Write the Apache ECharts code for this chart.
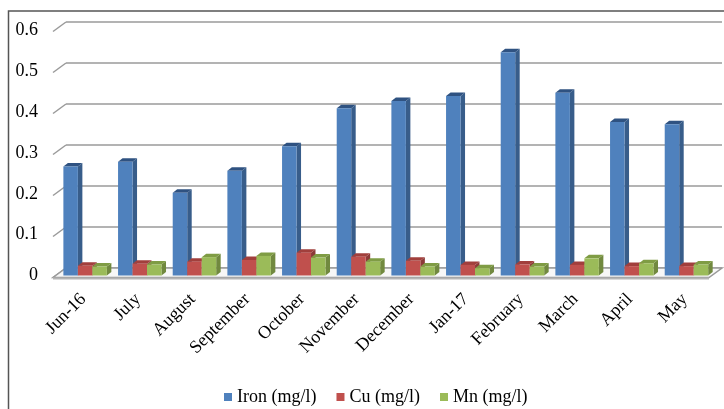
<!DOCTYPE html>
<html>
<head>
<meta charset="utf-8">
<script src="https://cdn.jsdelivr.net/npm/echarts@6/dist/echarts.min.js"></script>
<style>
  html, body { margin: 0; padding: 0; background: #fff; }
  #chart { width: 724px; height: 409px; }
</style>
</head>
<body>
<div id="chart"></div>
<script>
var months = ['Jun-16', 'July', 'August', 'September', 'October', 'November',
    'December', 'Jan-17', 'February', 'March', 'April', 'May'];
var iron = [0.267, 0.279, 0.203, 0.257, 0.317, 0.41, 0.428, 0.44, 0.547, 0.448, 0.376, 0.371];
var cu = [0.024, 0.029, 0.034, 0.038, 0.056, 0.046, 0.036, 0.026, 0.027, 0.026, 0.023, 0.023];
var mn = [0.022, 0.027, 0.045, 0.048, 0.044, 0.034, 0.022, 0.018, 0.022, 0.042, 0.030, 0.027];
var yTicks = [0, 0.1, 0.2, 0.3, 0.4, 0.5, 0.6];

var names = ['Iron (mg/l)', 'Cu (mg/l)', 'Mn (mg/l)'];
var faceColors = ['#4f81bd', '#c0504d', '#9bbb59'];
var sideColors = ['#385d8a', '#8c3a38', '#71893f'];
var topColors = ['#2f5281', '#a13f3c', '#7f9c44'];

// depth of the floor (front edge -> back wall) and of each bar
var wallDx = 13, wallDy = -9.5;
var barDx = 4.5, barDy = -3.5;
var font = 'Liberation Serif';

var chart = echarts.init(document.getElementById('chart'));

function barSeries(s, values) {
    return {
        name: names[s],
        type: 'custom',
        xAxisIndex: 0,
        yAxisIndex: 0,
        z: 5,
        itemStyle: { color: faceColors[s] },
        data: values.map(function (v, i) { return [i, v]; }),
        renderItem: function (params, api) {
            var top = api.coord([api.value(0), api.value(1)]);
            var base = api.coord([api.value(0), 0]);
            var band = api.size([1, 0])[0];
            var w = band * 0.265;
            var x0 = top[0] - band / 2 + band * 0.19 - 3 + s * w;
            var x1 = x0 + w;
            var yt = top[1], yb = base[1];
            return {
                type: 'group',
                children: [{
                    type: 'polygon',
                    shape: { points: [[x1, yt], [x1 + barDx, yt + barDy], [x1 + barDx, yb + barDy], [x1, yb]] },
                    style: { fill: sideColors[s] }
                }, {
                    type: 'polygon',
                    shape: { points: [[x0, yt], [x0 + barDx, yt + barDy], [x1 + barDx, yt + barDy], [x1, yt]] },
                    style: { fill: topColors[s] }
                }, {
                    type: 'rect',
                    shape: { x: x0, y: yt, width: w, height: yb - yt },
                    style: { fill: faceColors[s] }
                }]
            };
        }
    };
}

var option = {
    animation: false,
    grid: [
        { left: 56, right: 12, top: 30.7, bottom: 133.5 },
        { left: 66, right: 2, top: 22, bottom: 141 }
    ],
    xAxis: [{
        type: 'category',
        gridIndex: 0,
        data: months,
        axisLine: { show: false },
        axisTick: { show: false },
        axisLabel: {
            interval: 0,
            rotate: 45,
            margin: 21,
            fontFamily: font,
            fontSize: 18,
            color: '#000'
        }
    }, {
        type: 'value',
        gridIndex: 1,
        min: 0,
        max: 1,
        show: false
    }],
    yAxis: [{
        type: 'value',
        gridIndex: 0,
        min: 0,
        max: 0.6,
        interval: 0.1,
        axisLine: { show: false },
        axisTick: { show: false },
        splitLine: { show: false },
        axisLabel: {
            margin: 18,
            padding: [8, 0, 0, 0],
            fontFamily: font,
            fontSize: 18,
            color: '#000'
        }
    }, {
        type: 'value',
        gridIndex: 1,
        min: 0,
        max: 0.6,
        interval: 0.1,
        axisLine: { show: false },
        axisTick: { show: false },
        axisLabel: { show: false },
        splitLine: { lineStyle: { color: '#9a9a9a', width: 1.5 } }
    }],
    legend: {
        data: names,
        left: 224,
        top: 388,
        padding: 0,
        itemWidth: 8,
        itemHeight: 8,
        itemGap: 20,
        icon: 'rect',
        textStyle: { fontFamily: font, fontSize: 18, color: '#000' }
    },
    graphic: [{
        type: 'polyline',
        shape: { points: [[8.5, 409], [8.5, 11], [724, 11]] },
        style: { stroke: '#555', lineWidth: 1.5, fill: null }
    }],
    series: [{
        // side wall diagonals from front labels to the back wall
        type: 'custom',
        xAxisIndex: 1,
        yAxisIndex: 1,
        z: 1,
        silent: true,
        data: yTicks.map(function (v) { return [0, v]; }),
        renderItem: function (params, api) {
            var p = api.coord([0, api.value(1)]);
            return {
                type: 'line',
                shape: { x1: p[0] - wallDx, y1: p[1] - wallDy, x2: p[0], y2: p[1] },
                style: { stroke: '#9a9a9a', lineWidth: 1.5 }
            };
        }
    }, {
        // floor
        type: 'custom',
        xAxisIndex: 1,
        yAxisIndex: 1,
        z: 2,
        silent: true,
        data: [[0, 0]],
        renderItem: function (params, api) {
            var a = api.coord([0, 0]);
            var b = api.coord([1, 0]);
            var fa = [a[0] - wallDx, a[1] - wallDy];
            var fb = [b[0] - wallDx, b[1] - wallDy];
            return {
                type: 'group',
                children: [{
                    type: 'polygon',
                    shape: { points: [a, b, fb, fa] },
                    style: { fill: '#f7f7f7', stroke: '#9a9a9a', lineWidth: 1.5 }
                }, {
                    type: 'line',
                    shape: { x1: fa[0], y1: fa[1] + 1, x2: fb[0], y2: fb[1] + 1 },
                    style: { stroke: '#b5b5b5', lineWidth: 2 }
                }]
            };
        }
    },
        barSeries(0, iron),
        barSeries(1, cu),
        barSeries(2, mn)
    ]
};

chart.setOption(option);
</script>
</body>
</html>
